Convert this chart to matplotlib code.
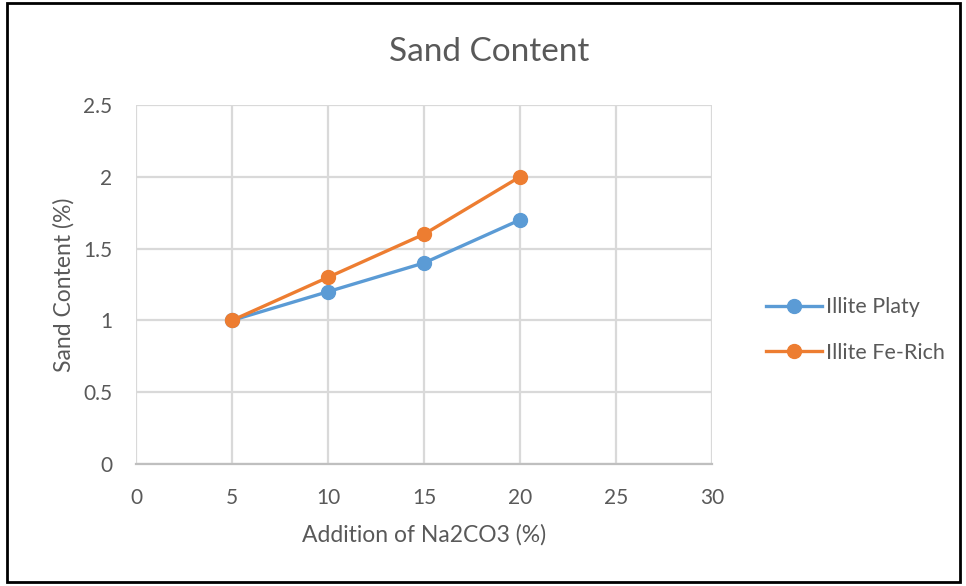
import matplotlib
matplotlib.use("Agg")
import matplotlib.pyplot as plt
from matplotlib.patches import Rectangle

# Data
na2co3 = [5, 10, 15, 20]
illite_platy = [1.0, 1.2, 1.4, 1.7]
illite_fe_rich = [1.0, 1.3, 1.6, 2.0]
series_names = ["Illite Platy", "Illite Fe-Rich"]
x_ticks = [0, 5, 10, 15, 20, 25, 30]
y_ticks = [0, 0.5, 1, 1.5, 2, 2.5]
y_tick_labels = ["0", "0.5", "1", "1.5", "2", "2.5"]

TEXT = "#595959"
GRID = "#d9d9d9"
BLUE = "#5b9bd5"
ORANGE = "#ed7d31"

plt.rcParams["font.family"] = ["Lato", "DejaVu Sans"]

fig = plt.figure(figsize=(9.66, 5.86), dpi=100)
ax = fig.add_axes([136 / 966, 1 - 464 / 586, (712 - 136) / 966, (464 - 105) / 586])

ax.plot(na2co3, illite_platy, color=BLUE, lw=2.4, marker="o", ms=10,
        label=series_names[0], zorder=3)
ax.plot(na2co3, illite_fe_rich, color=ORANGE, lw=2.4, marker="o", ms=10,
        label=series_names[1], zorder=4)

ax.set_xlim(0, 30)
ax.set_ylim(0, 2.5)
ax.set_xticks(x_ticks)
ax.set_yticks(y_ticks)
ax.set_yticklabels(y_tick_labels)
ax.grid(True, color=GRID, lw=1.6)
ax.set_axisbelow(True)
for side in ["top", "right", "left"]:
    ax.spines[side].set_visible(False)
ax.spines["bottom"].set_color("#bfbfbf")
ax.spines["bottom"].set_linewidth(1.6)
ax.tick_params(length=0, labelsize=15, colors=TEXT)
ax.tick_params(axis="x", pad=17)
ax.tick_params(axis="y", pad=17)

ax.set_xlabel("Addition of Na2CO3 (%)", fontsize=16.5, color=TEXT, labelpad=12)
ax.set_ylabel("Sand Content (%)", fontsize=16.5, color=TEXT, labelpad=6)
fig.text(489 / 966, 1 - 52 / 586, "Sand Content", ha="center", va="center",
         fontsize=24, color=TEXT)

leg = fig.legend(loc="center left", bbox_to_anchor=(747 / 966, 1 - 330 / 586),
                 frameon=False, fontsize=15.5, handlelength=2.6,
                 labelspacing=1.2, handletextpad=0.15)
for t in leg.get_texts():
    t.set_color(TEXT)

# Chart frame
fig.patches.append(Rectangle((7 / 966, 4 / 586), 953 / 966, 579 / 586,
                             transform=fig.transFigure, fill=False,
                             edgecolor="black", lw=2))

fig.savefig("out.png", dpi=100)
